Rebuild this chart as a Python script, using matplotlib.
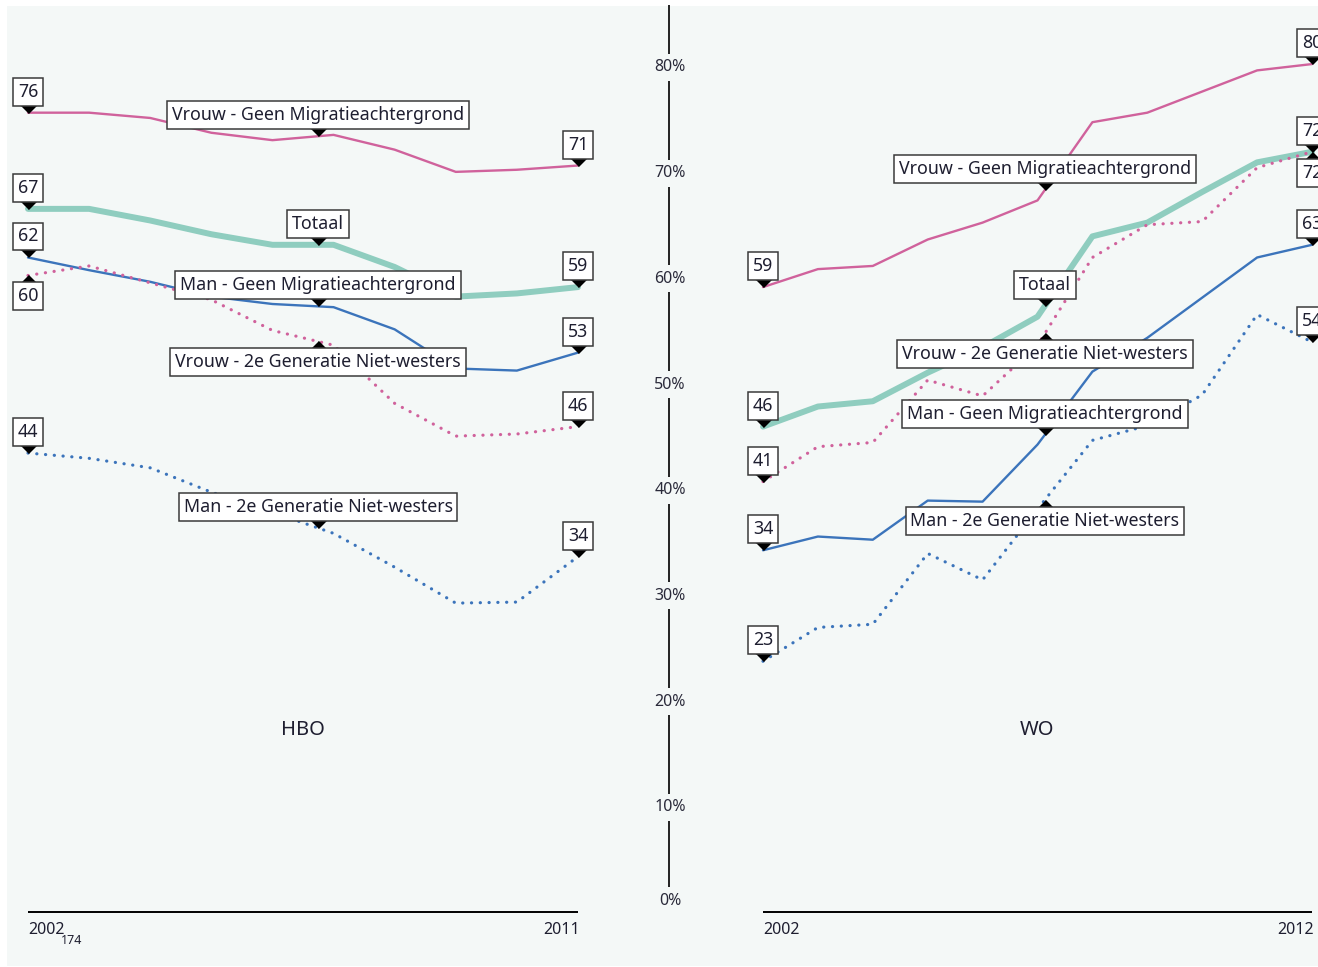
import numpy as np
import matplotlib
matplotlib.use('Agg')
import matplotlib.pyplot as plt
from matplotlib.patches import Rectangle

plt.rcParams['font.family'] = ['Noto Sans', 'DejaVu Sans']

# ---------------- data ----------------
hbo_years = list(range(2002, 2012))
wo_years = list(range(2002, 2013))

series_names = ["Vrouw - Geen Migratieachtergrond", "Totaal",
                "Man - Geen Migratieachtergrond",
                "Vrouw - 2e Generatie Niet-westers",
                "Man - 2e Generatie Niet-westers"]

hbo_vrouw_geen = [76.0, 76.0, 75.5, 74.1, 73.4, 73.9, 72.5, 70.4, 70.6, 71.0]
hbo_totaal     = [66.9, 66.9, 65.8, 64.5, 63.5, 63.5, 61.4, 58.6, 58.9, 59.5]
hbo_man_geen   = [62.3, 61.1, 60.0, 58.6, 57.9, 57.6, 55.5, 51.8, 51.6, 53.3]
hbo_vrouw_2e   = [60.6, 61.5, 59.9, 58.3, 55.4, 54.0, 48.5, 45.4, 45.6, 46.3]
hbo_man_2e     = [43.8, 43.3, 42.4, 40.1, 38.2, 36.2, 33.0, 29.6, 29.7, 34.0]

wo_vrouw_geen = [59.5, 61.2, 61.5, 64.0, 65.6, 67.7, 75.1, 76.0, 78.0, 80.0, 80.6]
wo_totaal     = [46.3, 48.2, 48.7, 51.4, 53.8, 56.7, 64.3, 65.6, 68.5, 71.3, 72.3]
wo_man_geen   = [34.6, 35.9, 35.6, 39.3, 39.2, 44.6, 51.5, 54.7, 58.5, 62.3, 63.5]
wo_vrouw_2e   = [41.1, 44.4, 44.8, 50.7, 49.2, 54.0, 62.3, 65.4, 65.7, 70.8, 72.3]
wo_man_2e     = [24.1, 27.3, 27.6, 34.3, 31.8, 38.5, 45.0, 46.4, 49.3, 56.9, 54.3]

hbo_start_labels = ["76", "67", "62", "60", "44"]
hbo_end_labels   = ["71", "59", "53", "46", "34"]
wo_start_labels  = ["59", "46", "34", "41", "23"]
wo_end_labels    = ["80", "72", "63", "72", "54"]

y_ticks = [0, 10, 20, 30, 40, 50, 60, 70, 80]
panel_titles = ["HBO", "WO"]

# ---------------- style ----------------
W, H = 1318, 967
BG = '#f4f8f7'
TXT = '#1e1e30'
PINK = '#d0629c'
TEAL = '#8fcdbf'
BLUE = '#3b74bb'
DOT = (0, (0.05, 2.7))
styles = [
    dict(color=PINK, lw=1.7, ls='-', z=3),
    dict(color=TEAL, lw=4.3, ls='-', z=2),
    dict(color=BLUE, lw=1.7, ls='-', z=3),
    dict(color=PINK, lw=2.3, ls=DOT, z=3),
    dict(color=BLUE, lw=2.3, ls=DOT, z=3),
]

PXU = 10.57          # pixels per percentage point
Y0 = 916             # pixel row of 0 %
YMIN = -(H - Y0) / PXU
YMAX = Y0 / PXU

fig = plt.figure(figsize=(W / 100, H / 100), dpi=100)
fig.patch.set_facecolor('white')
fig.patches.append(Rectangle((7 / W, 1 - 966 / H), (W - 7) / W, (966 - 6) / H,
                             transform=fig.transFigure, facecolor=BG,
                             edgecolor='none', zorder=-10))

DOWN = [(-1, 1), (1, 1), (0, 0)]
UP = [(-1, -1), (1, -1), (0, 0)]


def flag(ax, x, v, text, above=True, off=21, fs=12.8):
    ax.plot([x], [v], marker=DOWN if above else UP, ms=11.5, color='black',
            ls='none', zorder=6, clip_on=False)
    ax.annotate(text, xy=(x, v), xytext=(0, off if above else -off),
                textcoords='offset pixels', ha='center', va='center',
                fontsize=fs, color=TXT, zorder=7, annotation_clip=False,
                bbox=dict(boxstyle='square,pad=0.28', fc='white',
                          ec='#3a3a3a', lw=1.1))


def panel(left_px, right_px, x_first_px, step_px, years, data,
          start_labels, end_labels, start_above, end_above, mid_above,
          mid_px, title, title_px):
    ax = fig.add_axes([left_px / W, 0, (right_px - left_px) / W, 1])
    ax.set_facecolor('none')
    x0 = years[0] - (x_first_px - left_px) / step_px
    x1 = years[0] + (right_px - x_first_px) / step_px
    ax.set_xlim(x0, x1)
    ax.set_ylim(YMIN, YMAX)
    ax.axis('off')
    for vals, st in zip(data, styles):
        ax.plot(years, vals, color=st['color'], lw=st['lw'], ls=st['ls'],
                zorder=st['z'], solid_capstyle='round',
                dash_capstyle='round', clip_on=False)
    xm = years[0] + (mid_px - x_first_px) / step_px
    for vals, name, sl, el, sa, ea, ma in zip(data, series_names, start_labels,
                                              end_labels, start_above,
                                              end_above, mid_above):
        flag(ax, years[0], vals[0], sl, sa)
        flag(ax, years[-1], vals[-1], el, ea)
        flag(ax, xm, np.interp(xm, years, vals), name, ma)
    base = (Y0 - 912) / PXU
    ax.hlines(base, years[0], years[-1], color='black', lw=1.4, zorder=4)
    ax.annotate(str(years[0]), xy=(years[0], base), xytext=(0, -18),
                textcoords='offset pixels', ha='left', va='center',
                fontsize=11.5, color=TXT)
    ax.annotate(str(years[-1]), xy=(years[-1], base), xytext=(2, -18),
                textcoords='offset pixels', ha='right', va='center',
                fontsize=11.5, color=TXT)
    ax.text(years[0] + (title_px - x_first_px) / step_px, (Y0 - 730) / PXU,
            title, ha='center', va='center', fontsize=14.5, color=TXT)
    return ax


panel(0, 669, 28, 61.11, hbo_years,
      [hbo_vrouw_geen, hbo_totaal, hbo_man_geen, hbo_vrouw_2e, hbo_man_2e],
      hbo_start_labels, hbo_end_labels,
      [True, True, True, False, True], [True] * 5,
      [True, True, True, False, True], 318, panel_titles[0], 303)

panel(669, W, 763, 54.9, wo_years,
      [wo_vrouw_geen, wo_totaal, wo_man_geen, wo_vrouw_2e, wo_man_2e],
      wo_start_labels, wo_end_labels,
      [True] * 5, [True, True, True, False, True],
      [True, True, True, False, False], 1045, panel_titles[1], 1037)

# central percentage axis
axc = fig.add_axes([0, 0, 1, 1])
axc.set_facecolor('none')
axc.set_xlim(0, W)
axc.set_ylim(YMIN, YMAX)
axc.axis('off')
axc.vlines(669, (Y0 - 912) / PXU, YMAX - 5 / PXU, color='#222222', lw=1.4)
for t in y_ticks:
    axc.annotate(f"{t}%", xy=(670, t), xytext=(0, 15 if t == 0 else 3),
                 textcoords='offset pixels', ha='center', va='center',
                 fontsize=11.5, color='#2a2a3a',
                 bbox=dict(boxstyle='square,pad=0.35', fc=BG, ec='none'))

fig.text(72 / W, 1 - 940 / H, "174", ha='center', va='center', fontsize=9,
         fontweight='bold', color=TXT)

fig.savefig('out.png', dpi=100, facecolor='white')
